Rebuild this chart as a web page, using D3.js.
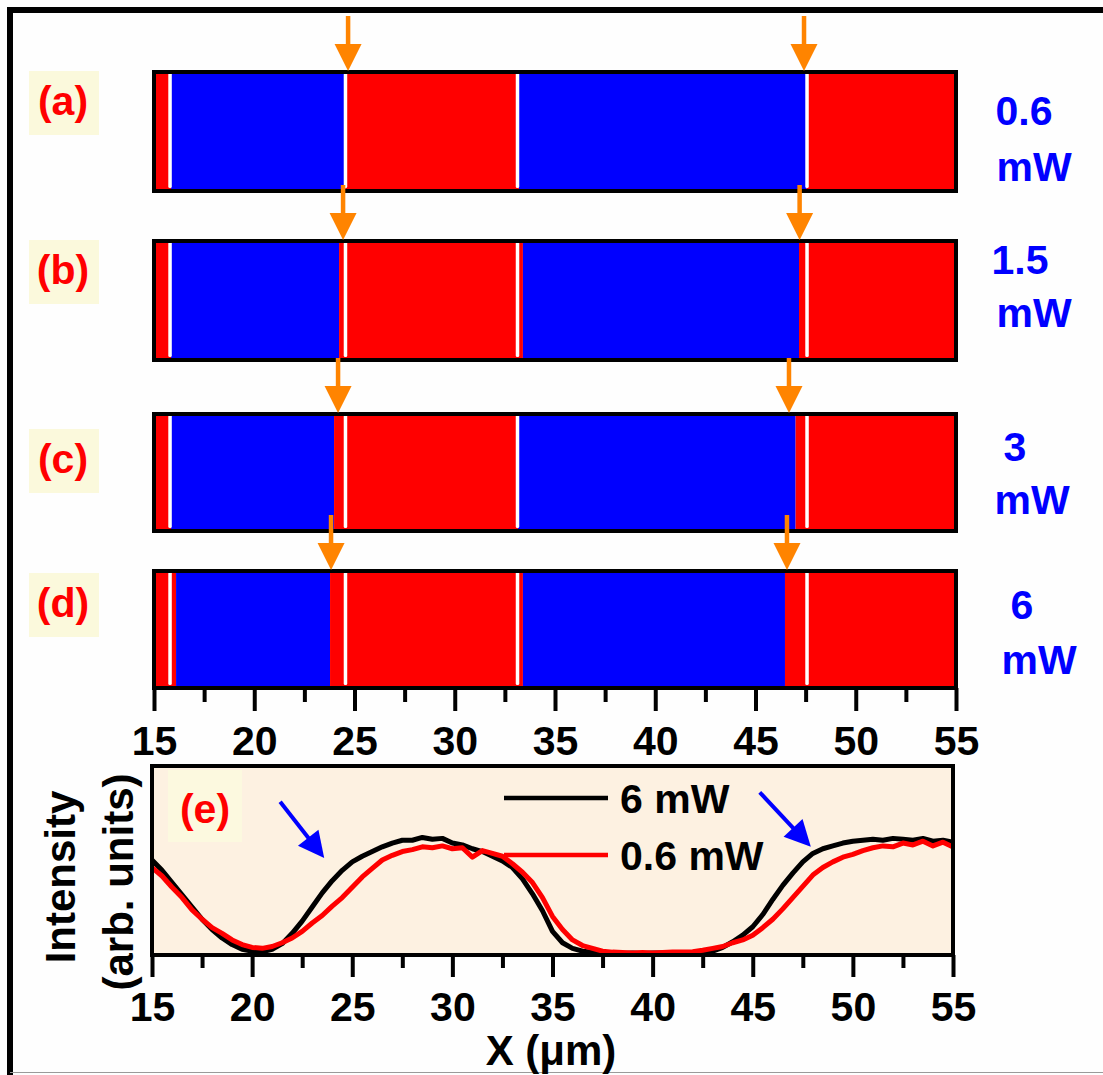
<!DOCTYPE html>
<html>
<head>
<meta charset="utf-8">
<script src="https://cdn.jsdelivr.net/npm/d3@7"></script>
<style>
  html, body { margin: 0; padding: 0; background: #fefefe; }
  svg { display: block; }
  text { font-family: "Liberation Sans", Arial, sans-serif; font-weight: bold; }
</style>
</head>
<body>
<div id="chart"></div>
<script>
// ════════════════════════════════════════════════════════════════
//   Domain wall strips (a)-(d) + intensity profiles (e)
// ════════════════════════════════════════════════════════════════

// ── Data ────────────────────────────────────────────────────────
const X_DOMAIN = [15, 55];
const MAJOR_TICKS = [15, 20, 25, 30, 35, 40, 45, 50, 55];
const MINOR_TICKS = [17.5, 22.5, 27.5, 32.5, 37.5, 42.5, 47.5, 52.5];

const PANEL_LABELS = ["(a)", "(b)", "(c)", "(d)"];
const POWER_LABELS = ["0.6", "1.5", "3", "6"];
const POWER_UNIT = "mW";

// red/blue boundaries (µm), left to right, strip starts red
const WALLS_A = [15.85, 24.55, 33.2, 47.55];
const WALLS_B = [15.85, 24.23, 33.4, 47.17];
const WALLS_C = [15.85, 23.98, 33.15, 47.0];
const WALLS_D = [16.1, 23.78, 33.4, 46.47];
const WALLS = [WALLS_A, WALLS_B, WALLS_C, WALLS_D];

// initial wall positions (white lines), same in every strip
const ORIGINAL_WALLS = [15.8, 24.55, 33.13, 47.57];

// orange arrows (µm)
const ARROW_LEFT = [24.68, 24.43, 24.18, 23.83];
const ARROW_RIGHT = [47.42, 47.2, 46.67, 46.57];

// panel (e): profiles sampled every 0.5 µm from 15 to 55
const PROFILE_X = d3.range(15, 55.001, 0.5);
const PROFILE_6MW = [
    50, 44.5, 38, 31.5, 25, 18.5, 13, 8.5, 5, 2.5,
    1.5, 1.2, 2.5, 5.5, 11, 17.5, 25, 32.5, 39, 44.5,
    49, 52, 54.5, 57, 59, 60.5, 60.5, 62, 61, 61.5,
    59, 58, 56, 54.5, 52, 49.5, 46, 40, 32, 23,
    12, 6, 3, 1.5, 1, 0.5, 0.5, 0.3, 0.5, 0.3,
    0.5, 0.5, 0.6, 0.5, 0.8, 0.8, 1.5, 3.5, 6.5, 10,
    14.5, 21, 29, 36.5, 43, 49, 53.5, 56, 57.5, 59,
    60, 60.5, 61, 60.5, 61.5, 61, 60.5, 61.5, 60, 60.5,
    59.5
];
const PROFILE_06MW = [
    46, 41.5, 35.5, 30, 23.5, 18.5, 14, 11, 7.5, 5,
    3.5, 3, 4, 6, 8.5, 12, 16.5, 20.5, 25.5, 30,
    35.5, 41, 45.5, 50, 52.5, 54.5, 55.5, 57, 56.5, 57.5,
    56, 56.5, 51.5, 55, 53.5, 52, 48, 43.5, 38, 30,
    20, 13, 7.5, 4.5, 3, 1.5, 1, 0.8, 0.5, 0.8,
    0.5, 0.8, 1, 1, 1.2, 2, 3, 4, 6, 7.5,
    10, 14, 18.5, 24, 30, 36, 42, 46, 49, 51.5,
    53, 55, 56.5, 57.5, 57, 59, 58, 60, 57.5, 59.5,
    57
];
const LEGEND = ["6 mW", "0.6 mW"];

// blue arrows in (e): [x0, y0, x1, y1] in data units
const E_ARROWS = [[21.4, 81, 23.6, 51], [45.35, 86, 47.9, 57]];

// ── Layout ──────────────────────────────────────────────────────
const W = 1103, H = 1075;
const STRIP_TOP = [70, 239, 412, 569];
const STRIP_BOTTOM = [193, 362, 533, 690];
const LABEL_Y = [104, 273, 462, 606];
const POWER_POS = [
    [[1024, 111], [1034, 167]],
    [[1020, 260], [1034, 313]],
    [[1015, 447], [1032, 500]],
    [[1022, 605], [1039, 660]]
];
const RED = "#ff0000", BLUE = "#0000ff", ORANGE = "#ff8400";
const FONT = 41;

const svg = d3.select("#chart").append("svg")
    .attr("width", W)
    .attr("height", H);

svg.append("rect").attr("width", W).attr("height", H).attr("fill", "#fefefe");

// outer frame
svg.append("path")
    .attr("d", `M10,${H} V10 H${W}`)
    .attr("fill", "none")
    .attr("stroke", "#000")
    .attr("stroke-width", 6);
svg.append("line")
    .attr("x1", 10).attr("x2", W).attr("y1", 1072.5).attr("y2", 1072.5)
    .attr("stroke", "#9a9a9a").attr("stroke-width", 1);

// ── Scales ──────────────────────────────────────────────────────
const xTop = d3.scaleLinear().domain(X_DOMAIN).range([154, 956]);
const xBot = d3.scaleLinear().domain(X_DOMAIN).range([152, 953]);
const yE = d3.scaleLinear().domain([0, 100]).range([954, 766]);

// ── Strips ──────────────────────────────────────────────────────
WALLS.forEach(function (walls, i) {
    const top = STRIP_TOP[i], bottom = STRIP_BOTTOM[i];
    const edges = [X_DOMAIN[0], ...walls, X_DOMAIN[1]];
    const segs = d3.pairs(edges).map(([a, b], k) => ({ a, b, color: k % 2 ? BLUE : RED }));

    const g = svg.append("g").attr("class", "strip");

    g.selectAll("rect.seg")
        .data(segs)
        .join("rect")
        .attr("class", "seg")
        .attr("x", d => xTop(d.a))
        .attr("width", d => xTop(d.b) - xTop(d.a))
        .attr("y", top + 2)
        .attr("height", bottom - top - 4)
        .attr("fill", d => d.color);

    g.selectAll("rect.wall")
        .data(ORIGINAL_WALLS)
        .join("rect")
        .attr("class", "wall")
        .attr("x", d => xTop(d) - 1.75)
        .attr("width", 3.5)
        .attr("y", top + 3)
        .attr("height", bottom - top - 8)
        .attr("rx", 1.5)
        .attr("fill", "#fff");

    g.append("rect")
        .attr("x", xTop(X_DOMAIN[0]))
        .attr("y", top + 2)
        .attr("width", xTop(X_DOMAIN[1]) - xTop(X_DOMAIN[0]))
        .attr("height", bottom - top - 4)
        .attr("fill", "none")
        .attr("stroke", "#000")
        .attr("stroke-width", 4);

    // panel letter on a pale yellow patch
    svg.append("rect")
        .attr("x", 29).attr("y", LABEL_Y[i] - 33)
        .attr("width", 70).attr("height", 64)
        .attr("fill", "#fbf9dc");
    svg.append("text")
        .attr("x", 63).attr("y", LABEL_Y[i] + 11)
        .attr("text-anchor", "middle")
        .attr("font-size", FONT)
        .attr("fill", RED)
        .text(PANEL_LABELS[i]);

    // power label, two lines
    const pos = POWER_POS[i];
    [POWER_LABELS[i], POWER_UNIT].forEach(function (t, k) {
        svg.append("text")
            .attr("x", pos[k][0]).attr("y", pos[k][1] + 14)
            .attr("text-anchor", "middle")
            .attr("font-size", FONT)
            .attr("fill", BLUE)
            .text(t);
    });
});

// ── Orange arrows (drawn over the strips) ────────────────────────
WALLS.forEach(function (_, i) {
    const tip = STRIP_TOP[i] + 1;
    [ARROW_LEFT[i], ARROW_RIGHT[i]].forEach(function (xv) {
        const x = xTop(xv);
        svg.append("line")
            .attr("x1", x).attr("x2", x)
            .attr("y1", tip - 55).attr("y2", tip - 24)
            .attr("stroke", ORANGE)
            .attr("stroke-width", 4.5);
        svg.append("path")
            .attr("d", `M${x - 13.5},${tip - 27} L${x + 13.5},${tip - 27} L${x},${tip} Z`)
            .attr("fill", ORANGE);
    });
});

// ── Axis under strip (d) ────────────────────────────────────────
function styleAxis(sel) {
    sel.select(".domain").remove();
    sel.selectAll(".tick line").attr("stroke", "#000").attr("stroke-width", 4);
    sel.selectAll(".tick text")
        .attr("font-size", FONT)
        .attr("font-family", "'Liberation Sans', Arial, sans-serif")
        .attr("font-weight", "bold")
        .attr("fill", "#000");
}

svg.append("g")
    .attr("transform", `translate(0,${STRIP_BOTTOM[3] - 2})`)
    .call(d3.axisBottom(xTop).tickValues(MINOR_TICKS).tickSize(14).tickFormat(""))
    .call(styleAxis);
svg.append("g")
    .attr("transform", `translate(0,${STRIP_BOTTOM[3] - 2})`)
    .call(d3.axisBottom(xTop).tickValues(MAJOR_TICKS).tickSize(23).tickPadding(15))
    .call(styleAxis);

// ── Panel (e) ───────────────────────────────────────────────────
const eTop = 766, eBottom = 955;
svg.append("rect")
    .attr("x", xBot(X_DOMAIN[0])).attr("y", eTop)
    .attr("width", xBot(X_DOMAIN[1]) - xBot(X_DOMAIN[0]))
    .attr("height", eBottom - eTop)
    .attr("fill", "#fdf1e1");

svg.append("defs").append("clipPath").attr("id", "eclip")
    .append("rect")
    .attr("x", xBot(X_DOMAIN[0]) + 2).attr("y", eTop + 2)
    .attr("width", xBot(X_DOMAIN[1]) - xBot(X_DOMAIN[0]) - 4)
    .attr("height", eBottom - eTop - 4);

// "(e)" label
svg.append("rect")
    .attr("x", 168).attr("y", 770).attr("width", 74).attr("height", 72)
    .attr("fill", "#fcf9df");
svg.append("text")
    .attr("x", 205).attr("y", 823)
    .attr("text-anchor", "middle")
    .attr("font-size", FONT)
    .attr("fill", RED)
    .text("(e)");

const line = d3.line()
    .x((d, k) => xBot(PROFILE_X[k]))
    .y(d => yE(d));

const profiles = [
    { values: PROFILE_6MW, color: "#000" },
    { values: PROFILE_06MW, color: RED }
];

svg.append("g")
    .attr("clip-path", "url(#eclip)")
    .selectAll("path")
    .data(profiles)
    .join("path")
    .attr("d", d => line(d.values))
    .attr("fill", "none")
    .attr("stroke", d => d.color)
    .attr("stroke-width", 5)
    .attr("stroke-linejoin", "round");

// legend
const legend = svg.append("g");
[798, 855].forEach(function (y, k) {
    legend.append("line")
        .attr("x1", 504).attr("x2", 608).attr("y1", y).attr("y2", y)
        .attr("stroke", profiles[k].color)
        .attr("stroke-width", 4.5);
    legend.append("text")
        .attr("x", 620).attr("y", y + 15)
        .attr("font-size", FONT)
        .attr("fill", "#000")
        .text(LEGEND[k]);
});

// blue arrows
E_ARROWS.forEach(function ([x0, y0, x1, y1]) {
    const p0 = [xBot(x0), yE(y0)], p1 = [xBot(x1), yE(y1)];
    const dx = p1[0] - p0[0], dy = p1[1] - p0[1];
    const len = Math.hypot(dx, dy);
    const ux = dx / len, uy = dy / len;
    const hl = 26, hw = 13;
    const bx = p1[0] - ux * hl, by = p1[1] - uy * hl;
    svg.append("line")
        .attr("x1", p0[0]).attr("y1", p0[1])
        .attr("x2", bx + ux * 2).attr("y2", by + uy * 2)
        .attr("stroke", BLUE)
        .attr("stroke-width", 4);
    svg.append("path")
        .attr("d", `M${bx - uy * hw},${by + ux * hw} L${bx + uy * hw},${by - ux * hw} L${p1[0]},${p1[1]} Z`)
        .attr("fill", BLUE);
});

// border of (e)
svg.append("rect")
    .attr("x", xBot(X_DOMAIN[0])).attr("y", eTop)
    .attr("width", xBot(X_DOMAIN[1]) - xBot(X_DOMAIN[0]))
    .attr("height", eBottom - eTop)
    .attr("fill", "none")
    .attr("stroke", "#000")
    .attr("stroke-width", 4);

svg.append("g")
    .attr("transform", `translate(0,${eBottom})`)
    .call(d3.axisBottom(xBot).tickValues(MINOR_TICKS).tickSize(13).tickFormat(""))
    .call(styleAxis);
svg.append("g")
    .attr("transform", `translate(0,${eBottom})`)
    .call(d3.axisBottom(xBot).tickValues(MAJOR_TICKS).tickSize(22).tickPadding(15))
    .call(styleAxis);

// axis titles
svg.append("text")
    .attr("transform", "translate(75,877) rotate(-90)")
    .attr("text-anchor", "middle")
    .attr("font-size", 42)
    .attr("fill", "#000")
    .text("Intensity");
svg.append("text")
    .attr("transform", "translate(133,882) rotate(-90)")
    .attr("text-anchor", "middle")
    .attr("font-size", 42)
    .attr("fill", "#000")
    .text("(arb. units)");
svg.append("text")
    .attr("x", 551).attr("y", 1065)
    .attr("text-anchor", "middle")
    .attr("font-size", 42)
    .attr("fill", "#000")
    .text("X (μm)");
</script>
</body>
</html>
